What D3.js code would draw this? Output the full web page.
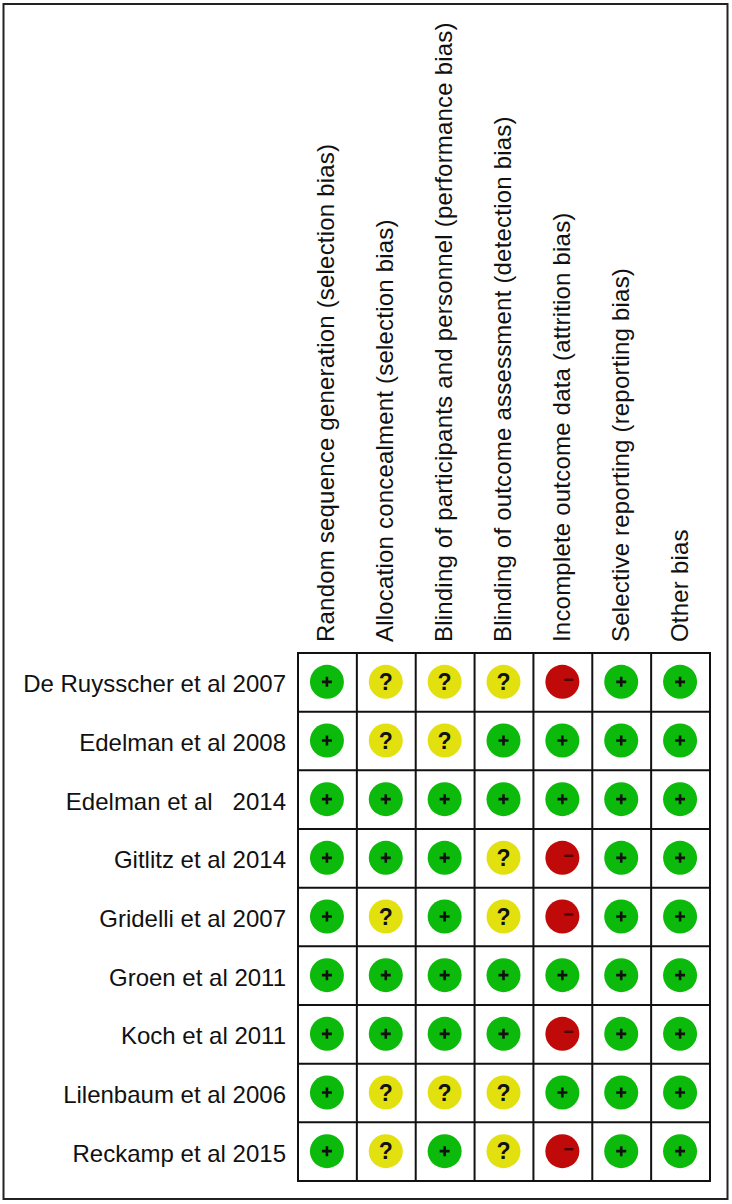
<!DOCTYPE html>
<html>
<head>
<meta charset="utf-8">
<script src="https://cdn.jsdelivr.net/npm/d3@7"></script>
<style>
html, body { margin: 0; padding: 0; background: #fff; }
svg { display: block; }
text { font-family: "Liberation Sans", Arial, sans-serif; fill: #111; }
</style>
</head>
<body>
<div id="chart"></div>
<script>
var studies = [
    "De Ruysscher et al 2007",
    "Edelman et al 2008",
    "Edelman et al\u00a0\u00a0\u00a02014",
    "Gitlitz et al 2014",
    "Gridelli et al 2007",
    "Groen et al 2011",
    "Koch et al 2011",
    "Lilenbaum et al 2006",
    "Reckamp et al 2015"
];

var domains = [
    "Random sequence generation (selection bias)",
    "Allocation concealment (selection bias)",
    "Blinding of participants and personnel (performance bias)",
    "Blinding of outcome assessment (detection bias)",
    "Incomplete outcome data (attrition bias)",
    "Selective reporting (reporting bias)",
    "Other bias"
];

// one string per study, one character per domain
var ratings = [
    "+???-++",
    "+??++++",
    "+++++++",
    "+++?-++",
    "+?+?-++",
    "+++++++",
    "++++-++",
    "+???+++",
    "+?+?-++"
];

var width = 732,
    height = 1204,
    gridLeft = 298,
    gridRight = 710,
    gridTop = 653,
    gridBottom = 1181,
    radius = 17,
    labelSize = 24,
    fills = { "+": "#0cba0c", "?": "#e3e010", "-": "#c00a0a" };

var x = d3.scaleBand().domain(d3.range(domains.length)).range([gridLeft, gridRight]);
var y = d3.scaleBand().domain(d3.range(studies.length)).range([gridTop, gridBottom]);

var svg = d3.select("#chart").append("svg")
    .attr("width", width)
    .attr("height", height);

// outer frame
svg.append("rect")
    .attr("x", 3.5)
    .attr("y", 4)
    .attr("width", 724)
    .attr("height", 1195)
    .attr("fill", "#fff")
    .attr("stroke", "#222")
    .attr("stroke-width", 2);

// grid lines
svg.selectAll(".vline")
    .data(d3.range(domains.length + 1))
    .enter().append("line")
    .attr("class", "vline")
    .attr("x1", function (d) { return d < domains.length ? x(d) : gridRight; })
    .attr("x2", function (d) { return d < domains.length ? x(d) : gridRight; })
    .attr("y1", gridTop - 1)
    .attr("y2", gridBottom + 1)
    .attr("stroke", "#111")
    .attr("stroke-width", 2);

svg.selectAll(".hline")
    .data(d3.range(studies.length + 1))
    .enter().append("line")
    .attr("class", "hline")
    .attr("x1", gridLeft - 1)
    .attr("x2", gridRight + 1)
    .attr("y1", function (d) { return d < studies.length ? y(d) : gridBottom; })
    .attr("y2", function (d) { return d < studies.length ? y(d) : gridBottom; })
    .attr("stroke", "#111")
    .attr("stroke-width", 2);

// study labels
svg.selectAll(".study")
    .data(studies)
    .enter().append("text")
    .attr("class", "study")
    .attr("x", 286)
    .attr("y", function (d, i) { return y(i) + y.bandwidth() / 2 + 10; })
    .attr("text-anchor", "end")
    .attr("font-size", labelSize)
    .text(function (d) { return d; });

// rotated domain labels, spaced out a touch to reach the reference length
svg.selectAll(".domain-label")
    .data(domains)
    .enter().append("text")
    .attr("class", "domain-label")
    .attr("transform", function (d, i) {
        return "translate(" + (x(i) + x.bandwidth() / 2 + 7) + "," + 642 + ") rotate(-90)";
    })
    .attr("font-size", labelSize)
    .attr("letter-spacing", 0.2)
    .text(function (d) { return d; });

// rating dots
var cells = [];
ratings.forEach(function (row, r) {
    row.split("").forEach(function (v, c) {
        cells.push({ row: r, col: c, value: v });
    });
});

var cell = svg.selectAll(".cell")
    .data(cells)
    .enter().append("g")
    .attr("class", "cell")
    .attr("transform", function (d) {
        return "translate(" + (x(d.col) + x.bandwidth() / 2 - 0.5) + "," + (y(d.row) + y.bandwidth() / 2 - 0.5) + ")";
    });

cell.append("circle")
    .attr("r", radius)
    .attr("fill", function (d) { return fills[d.value]; });

// + and - are drawn as small bars, ? as bold text
cell.filter(function (d) { return d.value === "+"; }).append("path")
    .attr("d", "M-5,0H5M0,-5V5")
    .attr("stroke", "#111")
    .attr("stroke-width", 2.6);

cell.filter(function (d) { return d.value === "-"; }).append("path")
    .attr("d", "M2,-2H11")
    .attr("stroke", "#4a0505")
    .attr("stroke-width", 2.4);

cell.filter(function (d) { return d.value === "?"; }).append("text")
    .attr("text-anchor", "middle")
    .attr("y", 8)
    .attr("font-size", 23)
    .attr("font-weight", "bold")
    .text("?");
</script>
</body>
</html>
